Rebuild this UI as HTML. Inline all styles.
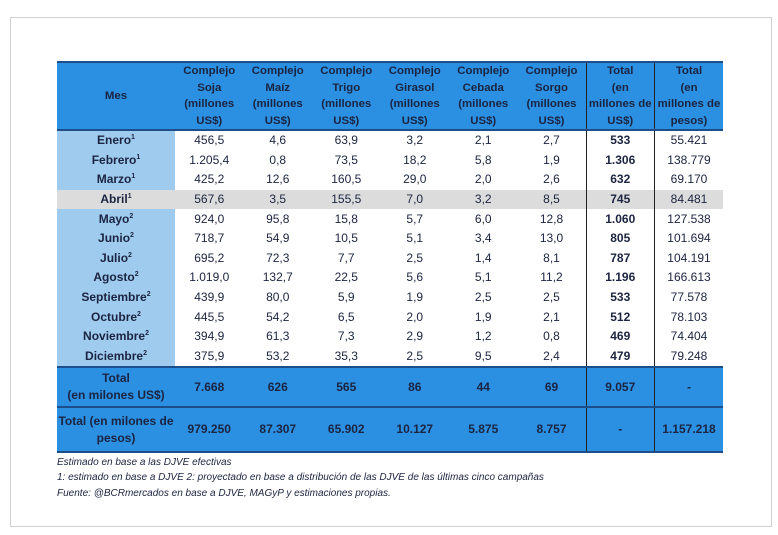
<!DOCTYPE html>
<html><head><meta charset="utf-8"><style>
body{margin:0;width:778px;height:535px;background:#fff;position:relative;overflow:hidden;font-family:"Liberation Sans",sans-serif;color:#1b2440}
.frame{position:absolute;left:10px;top:17px;width:760px;height:508px;border:1px solid #d0d0d0}
table{position:absolute;left:57px;top:61px;border-collapse:collapse;table-layout:fixed;width:666px}
td{padding:0;text-align:center;font-size:12px;line-height:13px;white-space:nowrap}
tr.h td{background:#2b8fe2;font-weight:bold;font-size:11.4px;line-height:16.5px;height:66px;border-top:2px solid #1c4f8a;border-bottom:2px solid #1c4f8a}
tr.r td{height:19.6px}
tr.r td.m{background:#9fcbef;font-weight:bold}
tr.g td{background:#dcdcdc !important}
td.b{font-weight:bold}
.vl{border-left:1.5px solid #222;border-right:1.5px solid #222}
tr.t td{background:#2b8fe2;font-weight:bold;line-height:17px;border-bottom:2px solid #1c4f8a}
tr.t1 td{height:38px;border-top:2px solid #1c4f8a}
tr.t2 td{height:43px}
sup{font-size:7px;vertical-align:5px;line-height:0}
.notes{position:absolute;left:57px;top:455px;font-size:10px;font-style:italic;line-height:15.3px;color:#1b2440}
</style></head><body>
<div class="frame"></div>
<table>
<colgroup><col style="width:118px"><col><col><col><col><col><col><col><col></colgroup>
<tr class="h"><td>Mes</td><td>Complejo<br>Soja<br>(millones<br>US$)</td><td>Complejo<br>Maíz<br>(millones<br>US$)</td><td>Complejo<br>Trigo<br>(millones<br>US$)</td><td>Complejo<br>Girasol<br>(millones<br>US$)</td><td>Complejo<br>Cebada<br>(millones<br>US$)</td><td>Complejo<br>Sorgo<br>(millones<br>US$)</td><td class="vl">Total<br>(en<br>millones de<br>US$)</td><td>Total<br>(en<br>millones de<br>pesos)</td></tr>
<tr class="r"><td class="m">Enero<sup>1</sup></td><td>456,5</td><td>4,6</td><td>63,9</td><td>3,2</td><td>2,1</td><td>2,7</td><td class="b vl">533</td><td>55.421</td></tr>
<tr class="r"><td class="m">Febrero<sup>1</sup></td><td>1.205,4</td><td>0,8</td><td>73,5</td><td>18,2</td><td>5,8</td><td>1,9</td><td class="b vl">1.306</td><td>138.779</td></tr>
<tr class="r"><td class="m">Marzo<sup>1</sup></td><td>425,2</td><td>12,6</td><td>160,5</td><td>29,0</td><td>2,0</td><td>2,6</td><td class="b vl">632</td><td>69.170</td></tr>
<tr class="r g"><td class="m">Abril<sup>1</sup></td><td>567,6</td><td>3,5</td><td>155,5</td><td>7,0</td><td>3,2</td><td>8,5</td><td class="b vl">745</td><td>84.481</td></tr>
<tr class="r"><td class="m">Mayo<sup>2</sup></td><td>924,0</td><td>95,8</td><td>15,8</td><td>5,7</td><td>6,0</td><td>12,8</td><td class="b vl">1.060</td><td>127.538</td></tr>
<tr class="r"><td class="m">Junio<sup>2</sup></td><td>718,7</td><td>54,9</td><td>10,5</td><td>5,1</td><td>3,4</td><td>13,0</td><td class="b vl">805</td><td>101.694</td></tr>
<tr class="r"><td class="m">Julio<sup>2</sup></td><td>695,2</td><td>72,3</td><td>7,7</td><td>2,5</td><td>1,4</td><td>8,1</td><td class="b vl">787</td><td>104.191</td></tr>
<tr class="r"><td class="m">Agosto<sup>2</sup></td><td>1.019,0</td><td>132,7</td><td>22,5</td><td>5,6</td><td>5,1</td><td>11,2</td><td class="b vl">1.196</td><td>166.613</td></tr>
<tr class="r"><td class="m">Septiembre<sup>2</sup></td><td>439,9</td><td>80,0</td><td>5,9</td><td>1,9</td><td>2,5</td><td>2,5</td><td class="b vl">533</td><td>77.578</td></tr>
<tr class="r"><td class="m">Octubre<sup>2</sup></td><td>445,5</td><td>54,2</td><td>6,5</td><td>2,0</td><td>1,9</td><td>2,1</td><td class="b vl">512</td><td>78.103</td></tr>
<tr class="r"><td class="m">Noviembre<sup>2</sup></td><td>394,9</td><td>61,3</td><td>7,3</td><td>2,9</td><td>1,2</td><td>0,8</td><td class="b vl">469</td><td>74.404</td></tr>
<tr class="r"><td class="m">Diciembre<sup>2</sup></td><td>375,9</td><td>53,2</td><td>35,3</td><td>2,5</td><td>9,5</td><td>2,4</td><td class="b vl">479</td><td>79.248</td></tr>
<tr class="t t1"><td>Total<br>(en milones US$)</td><td>7.668</td><td>626</td><td>565</td><td>86</td><td>44</td><td>69</td><td class="vl">9.057</td><td>-</td></tr>
<tr class="t t2"><td>Total (en milones de<br>pesos)</td><td>979.250</td><td>87.307</td><td>65.902</td><td>10.127</td><td>5.875</td><td>8.757</td><td class="vl">-</td><td>1.157.218</td></tr>
</table>
<div class="notes">Estimado en base a las DJVE efectivas<br>1: estimado en base a DJVE 2: proyectado en base a distribución de las DJVE de las últimas cinco campañas<br>Fuente: @BCRmercados en base a DJVE, MAGyP y estimaciones propias.</div>
</body></html>
